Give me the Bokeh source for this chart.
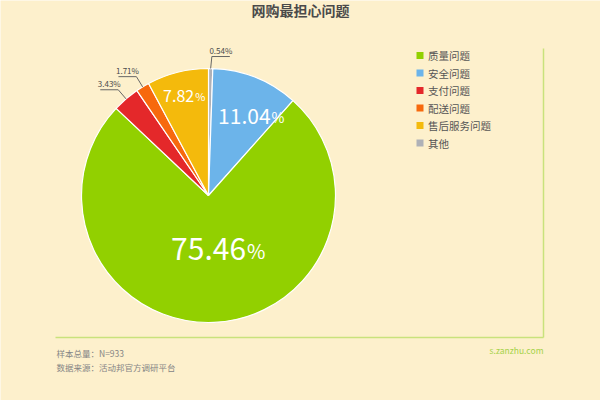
import math
from bokeh.plotting import figure
from bokeh.models import Range1d, ColumnDataSource
from bokeh.core.properties import value
from bokeh.embed import file_html
from bokeh.resources import INLINE

# ---------------- data ----------------
title_text = "网购最担心问题"
categories = ["质量问题", "安全问题", "支付问题", "配送问题", "售后服务问题", "其他"]
shares = [75.46, 11.04, 3.43, 1.71, 7.82, 0.54]
colors = ["#92d000", "#6cb4ea", "#e4282a", "#f7690d", "#f4ba0c", "#afb1b7"]
# order of the slices, clockwise from 12 o'clock
clockwise_order = ["其他", "安全问题", "质量问题", "支付问题", "配送问题", "售后服务问题"]
sample_note = "样本总量：N=933"
source_note = "数据来源：活动邦官方调研平台"
site_note = "s.zanzhu.com"

# ---------------- style / layout ----------------
BG = "#fdf0cc"
FRAME = "#c9e27c"
CJK = "Noto Sans CJK SC"
W, H = 600, 400


def Y(sy):
    return 400 - sy


CX, CY, R = 208, Y(195), 127

p = figure(width=W, height=H, output_backend="svg", toolbar_location=None,
           x_range=Range1d(0, W), y_range=Range1d(0, H),
           x_axis_type=None, y_axis_type=None, min_border=0)
p.grid.visible = False
p.outline_line_color = None
p.background_fill_color = BG
p.border_fill_color = BG

# ---------------- pie ----------------
idx = {c: i for i, c in enumerate(categories)}
starts, ends, cols, mids = [], [], [], {}
acc = 0.0
for c in clockwise_order:
    v = shares[idx[c]]
    a0 = acc / 100 * 2 * math.pi
    a1 = (acc + v) / 100 * 2 * math.pi
    starts.append(math.pi / 2 - a0)
    ends.append(math.pi / 2 - a1)
    cols.append(colors[idx[c]])
    mids[c] = (a0 + a1) / 2  # clockwise from top, radians
    acc += v

src = ColumnDataSource(dict(x=[CX] * len(starts), y=[CY] * len(starts),
                            start=starts, end=ends, color=cols))
p.wedge(x="x", y="y", radius=R, start_angle="start", end_angle="end",
        direction="clock", fill_color="color", line_color="#ffffff",
        line_width=1.2, source=src)

# inside labels: (radius fraction, angle shift deg, number font, pct font)
inside = {"质量问题": (0.43, -7, 30, 20),
          "安全问题": (0.71, 6, 21, 14),
          "售后服务问题": (0.81, 0, 16, 11)}
for c, (rf, sh, fs, pfs) in inside.items():
    v = shares[idx[c]]
    ang = mids[c] + math.radians(sh)
    lx = CX + rf * R * math.sin(ang)
    ly = CY + rf * R * math.cos(ang)
    num = f"{v:.2f}"
    nw = sum(0.27 if ch == "." else 0.55 for ch in num) * fs
    pw = 0.85 * pfs
    anchor = lx - (nw + pw) / 2 + nw
    p.text(x=[anchor], y=[ly], text=[num], text_align="right",
           text_baseline="middle", text_color="#ffffff",
           text_font=value(CJK), text_font_size=f"{fs}px")
    p.text(x=[anchor + 1], y=[ly - fs * 0.04], text=["%"], text_align="left",
           text_baseline="middle", text_color="#ffffff",
           text_font=value(CJK), text_font_size=f"{pfs}px")

# outside labels with leader + underline
outside = ["其他", "配送问题", "支付问题"]
LBL_W = 18
for c in outside:
    v = shares[idx[c]]
    ang = mids[c]
    ex, ey = CX + R * math.sin(ang), CY + R * math.cos(ang)
    kx, ky = CX + (R + 12) * math.sin(ang), CY + (R + 12) * math.cos(ang)
    if math.sin(ang) >= 0:
        ux0, ux1 = kx + 1, kx + 1 + LBL_W
    else:
        ux0, ux1 = kx - LBL_W, kx
    p.line(x=[ex, kx + (1 if math.sin(ang) >= 0 else 0)], y=[ey, ky],
           line_color="#666666", line_width=1)
    p.line(x=[ux0, ux1], y=[ky, ky], line_color="#666666", line_width=1)
    p.text(x=[(ux0 + ux1) / 2], y=[ky + 1], text=[f"{v:.2f}%"],
           text_align="center", text_baseline="bottom", text_color="#4a4a4a",
           text_font=value(CJK), text_font_size="8px")

# ---------------- legend ----------------
LX, LY0, LDY = 419.5, 55, 17.5
leg_y = [Y(LY0 + i * LDY) for i in range(len(categories))]
p.scatter(x=[LX] * len(categories), y=leg_y, marker="square", size=7,
          fill_color=colors, line_color=None)
p.text(x=[LX + 8] * len(categories), y=leg_y, text=categories,
       text_align="left", text_baseline="middle", text_color="#555555",
       text_font=value(CJK), text_font_size="10.5px")

# ---------------- frame lines ----------------
p.line(x=[543, 543], y=[Y(48), Y(337)], line_color=FRAME, line_width=1.5)
p.line(x=[55, 543], y=[Y(337), Y(337)], line_color=FRAME, line_width=1.5)

# ---------------- texts ----------------
p.text(x=[300], y=[Y(9.5)], text=[title_text], text_align="center",
       text_baseline="middle", text_color="#4a4a4a", text_font=value(CJK),
       text_font_size="14px", text_font_style="bold")
p.text(x=[56], y=[Y(352)], text=[sample_note], text_align="left",
       text_baseline="middle", text_color="#858585", text_font=value(CJK),
       text_font_size="8.5px")
p.text(x=[56], y=[Y(366)], text=[source_note], text_align="left",
       text_baseline="middle", text_color="#858585", text_font=value(CJK),
       text_font_size="8.5px")
p.text(x=[543], y=[Y(349)], text=[site_note], text_align="right",
       text_baseline="middle", text_color="#a6d24a", text_font=value(CJK),
       text_font_size="8.5px")

html = file_html(p, INLINE)
open("out.html", "w").write(html)
